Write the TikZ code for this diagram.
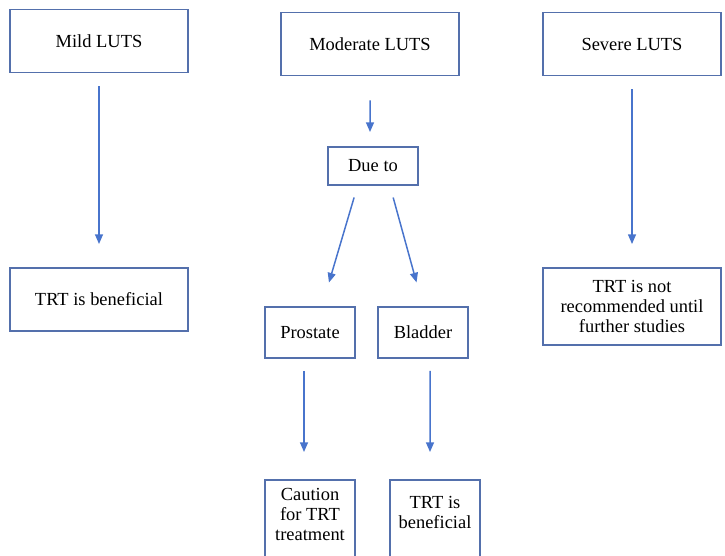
\documentclass[tikz,border=0pt]{standalone}
\usepackage{fontspec}
\setmainfont{Liberation Serif}
\newfontfamily\lutsfont{Liberation Serif}
\usepackage{tikz}
\usetikzlibrary{arrows.meta}
\definecolor{BoxEdge}{RGB}{84,112,172}
\definecolor{ArrBlue}{RGB}{72,116,204}
\tikzset{
  lutsbox/.style={
    rectangle, draw=BoxEdge, line width=1.1pt, fill=white,
    minimum width=3.56cm, minimum height=1.26cm,
    font=\lutsfont\fontsize{10.5}{11.5}\selectfont, align=center, inner sep=2pt
  },
  smallbox/.style={
    lutsbox, minimum width=1.8cm
  },
  arr/.style={-{Triangle[length=5.5pt, width=4.5pt]}, draw=ArrBlue, line width=0.85pt}
}

\begin{document}
\begin{tikzpicture}
  \useasboundingbox (0,0) rectangle (14.5,-11.1);

  % ── Severity boxes ──
  \node[lutsbox] (mild)     at ( 1.98,-0.82) {Mild LUTS};
  \node[lutsbox] (moderate) at ( 7.40,-0.88) {Moderate LUTS};
  \node[lutsbox] (severe)   at (12.64,-0.88) {Severe LUTS};

  % ── Middle branch ──
  \node[smallbox, minimum height=0.76cm] (due) at (7.46,-3.32) {Due to};
  \node[smallbox, minimum height=1.02cm] (prostate) at (6.20,-6.65) {Prostate};
  \node[smallbox, minimum height=1.02cm] (bladder)  at (8.46,-6.65) {Bladder};

  % ── Outcomes ──
  \node[lutsbox] (mildres) at ( 1.98,-5.99) {TRT is beneficial};
  \node[lutsbox, minimum height=1.54cm]
        (sevres) at (12.64,-6.13) {TRT is not\\recommended until\\further studies};
  \node[smallbox, minimum height=1.92cm] (caution) at (6.20,-10.56) {Caution\\for TRT\\treatment\\[4pt]};
  \node[smallbox, minimum height=1.92cm] (bladres) at (8.70,-10.56) {TRT is\\beneficial\\[6pt]};

  % ── Arrows ──
  \draw[arr, shorten <=0.26cm, shorten >=0.46cm] (mild) -- (mildres);
  \draw[arr, shorten <=0.26cm, shorten >=0.46cm] (severe) -- (sevres);
  \draw[arr, shorten <=0.48cm, shorten >=0.28cm] (moderate.south) -- ([xshift=-0.6mm]due.north);
  \draw[arr, shorten <=0.24cm, shorten >=0.49cm] ([xshift=-3.1mm]due.south) -- ([xshift=2.4mm]prostate.north);
  \draw[arr, shorten <=0.24cm, shorten >=0.49cm] ([xshift=3.4mm]due.south) -- (bladder.north);
  \draw[arr, shorten <=0.24cm, shorten >=0.54cm] ([xshift=-1.2mm]prostate.south) -- ([xshift=-1.2mm]caution.north);
  \draw[arr, shorten <=0.24cm, shorten >=0.54cm] ([xshift=1.4mm]bladder.south) -- ([xshift=-1mm]bladres.north);
\end{tikzpicture}
\end{document}
